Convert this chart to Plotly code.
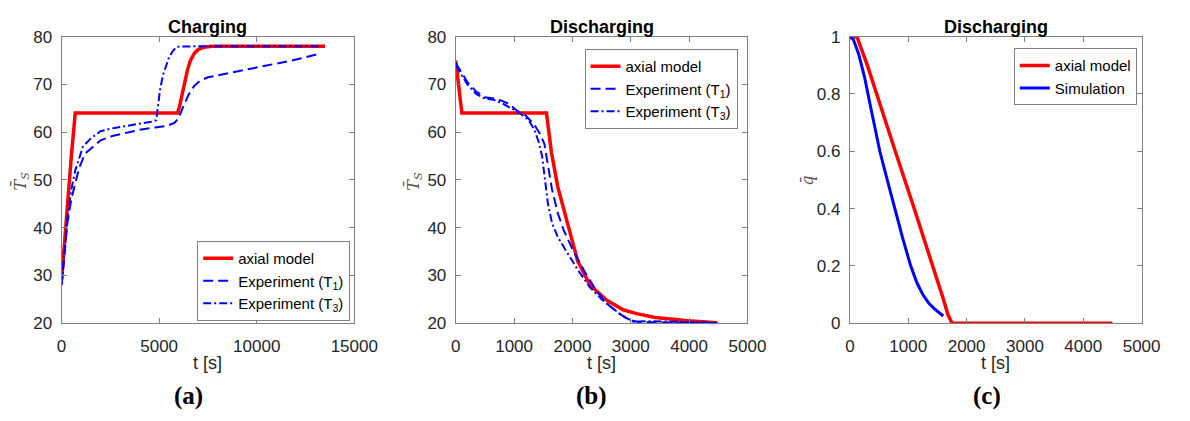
import plotly.graph_objects as go

# ---------------- data ----------------
# (a) Charging
a_model_t = [0, 150, 350, 500, 700, 5950, 6050, 6150, 6300, 6450, 6600, 6800, 7000, 7300, 7700, 8200, 13500]
a_model_T = [29, 37, 48.5, 55, 64, 64, 65.5, 67.5, 70.5, 73, 75, 76.5, 77.3, 77.8, 78, 78, 78]
a_T1_t = [0, 150, 300, 500, 700, 900, 1200, 1600, 2000, 2600, 3200, 4000, 4800, 5400, 5800, 6000, 6200,
          6500, 6800, 7100, 7500, 8700, 10000, 11900, 13300]
a_T1_T = [28, 35, 41, 46, 49.5, 52.5, 55.5, 57, 58.3, 59.2, 59.8, 60.5, 61, 61.3, 62, 63, 65,
          67.8, 69.7, 70.8, 71.5, 72.5, 73.5, 75.1, 76.5]
a_T3_t = [0, 150, 300, 500, 700, 900, 1100, 1500, 2000, 2600, 3200, 4000, 4600, 4850, 4950, 5050,
          5200, 5350, 5500, 5700, 5900, 7000, 10000, 13300]
a_T3_T = [28, 36, 42, 48, 52, 54.5, 57, 58.7, 60.2, 60.8, 61.2, 61.8, 62.2, 62.5, 66, 69,
          72, 74, 75.6, 77, 77.9, 78, 78, 78]

# (b) Discharging temperature
b_model_t = [0, 105, 1555, 1640, 1750, 1920, 2090, 2300, 2590, 2870, 3100, 3420, 3980, 4480]
b_model_T = [75, 64, 64, 55.8, 48.5, 40.5, 33, 28, 24.8, 22.8, 22, 21.2, 20.5, 20.1]
b_T1_t = [0, 100, 200, 350, 500, 700, 900, 1050, 1200, 1350, 1450, 1520, 1580, 1650, 1750, 1850,
          2000, 2200, 2400, 2600, 2800, 3000, 3150, 3500, 4000, 4500]
b_T1_T = [74.5, 72.5, 70.5, 68.5, 67.3, 67, 66, 64.5, 63.5, 61.5, 59.5, 57.5, 53, 48, 43, 39.5,
          35.5, 31, 27, 24, 22, 20.6, 20.2, 20.1, 20.1, 20]
b_T3_t = [0, 100, 200, 350, 500, 650, 800, 950, 1100, 1250, 1350, 1420, 1480, 1530, 1580, 1650,
          1750, 1900, 2100, 2300, 2500, 2700, 2900, 3050, 3300, 3700, 4200, 4500]
b_T3_T = [74, 72, 70, 68, 67, 66.8, 66, 65, 64, 62.5, 60.5, 58, 55, 50, 45, 41,
          38, 35, 31, 27.5, 25, 23, 21.2, 20.3, 20.4, 20.3, 20.2, 20.1]

# (c) Discharging q
c_model_t = [0, 120, 300, 454, 778, 1102, 1426, 1600, 1680, 1750, 4500]
c_model_q = [1, 1, 0.9, 0.8, 0.6, 0.4, 0.2, 0.085, 0.03, 0, 0]
c_sim_t = [0, 60, 150, 250, 350, 450, 513, 640, 764, 900, 1042, 1150, 1250, 1350, 1450, 1600]
c_sim_q = [1, 0.99, 0.94, 0.86, 0.76, 0.66, 0.6, 0.5, 0.4, 0.3, 0.2, 0.14, 0.1, 0.07, 0.05, 0.025]

titles = ["Charging", "Discharging", "Discharging"]
sublabels = ["(a)", "(b)", "(c)"]
xtick_a = [0, 5000, 10000, 15000]
xtick_bc = [0, 1000, 2000, 3000, 4000, 5000]
ytick_T = [20, 30, 40, 50, 60, 70, 80]
ytick_q = [0, 0.2, 0.4, 0.6, 0.8, 1]

# ---------------- figure ----------------
W, H = 1190, 421
RED, BLUE = "#ff0000", "#0000ff"
GRAY = "#808080"
TXT = "#262626"
DASH = "10px,5px"
DASHDOT = "8px,3px,2px,3px"

def px_x(x):
    return x / W

def px_y(y):
    return 1 - y / H

fig = go.Figure()

def add(x, y, name, color, width, dash, xa, ya, leg):
    fig.add_trace(go.Scatter(x=x, y=y, name=name, mode="lines",
                             line=dict(color=color, width=width, dash=dash),
                             xaxis=xa, yaxis=ya, legend=leg, showlegend=True))

add(a_model_t, a_model_T, "axial model", RED, 3.5, "solid", "x", "y", "legend")
add(a_T1_t, a_T1_T, "Experiment (T<sub>1</sub>)", BLUE, 2, DASH, "x", "y", "legend")
add(a_T3_t, a_T3_T, "Experiment (T<sub>3</sub>)", BLUE, 2, DASHDOT, "x", "y", "legend")

add(b_model_t, b_model_T, "axial model", RED, 3.5, "solid", "x2", "y2", "legend2")
add(b_T1_t, b_T1_T, "Experiment (T<sub>1</sub>)", BLUE, 2, DASH, "x2", "y2", "legend2")
add(b_T3_t, b_T3_T, "Experiment (T<sub>3</sub>)", BLUE, 2, DASHDOT, "x2", "y2", "legend2")

add(c_model_t, c_model_q, "axial model", RED, 3.5, "solid", "x3", "y3", "legend3")
add(c_sim_t, c_sim_q, "Simulation", BLUE, 3, "solid", "x3", "y3", "legend3")

panels = [(58, 358), (462, 761), (866, 1165)]
top, bot = 29, 329
ydom = [px_y(bot), px_y(top)]

axis_common = dict(showline=True, linecolor=GRAY, linewidth=1, mirror="allticks",
                   ticks="inside", ticklen=5, tickcolor=GRAY, showgrid=False, zeroline=False,
                   tickfont=dict(family="Liberation Sans, Arial", size=17, color=TXT))

layout = dict(width=W, height=H, margin=dict(l=0, r=0, t=0, b=0),
              plot_bgcolor="white", paper_bgcolor="white", showlegend=True)

xranges = [[0, 15000], [0, 5000], [0, 5000]]
xticks = [xtick_a, xtick_bc, xtick_bc]
yranges = [[20, 80], [20, 80], [0, 1]]
yticks = [ytick_T, ytick_T, ytick_q]

for i, (l, r) in enumerate(panels):
    sx = "" if i == 0 else str(i + 1)
    xa = dict(axis_common, domain=[px_x(l), px_x(r)], range=xranges[i], tickvals=xticks[i],
              ticktext=[str(v) for v in xticks[i]], anchor="y" + sx, ticklabelstandoff=7)
    ya = dict(axis_common, domain=ydom, range=yranges[i], tickvals=yticks[i],
              ticktext=[("%g" % v) for v in yticks[i]], anchor="x" + sx, ticklabelstandoff=5)
    layout["xaxis" + sx] = xa
    layout["yaxis" + sx] = ya

leg_common = dict(bgcolor="white", bordercolor=GRAY, borderwidth=1,
                  font=dict(family="Liberation Sans, Arial", size=15, color="#000000"),
                  xanchor="left", yanchor="top", itemwidth=30, tracegroupgap=0)
layout["legend"] = dict(leg_common, x=px_x(197), y=px_y(243))
layout["legend2"] = dict(leg_common, x=px_x(594), y=px_y(42))
layout["legend3"] = dict(leg_common, x=px_x(1034), y=px_y(41))

annotations = []
ylab = ["<i>T̄</i><sub><i>S</i></sub>", "<i>T̄</i><sub><i>S</i></sub>", "<i>q̄</i>"]
ylab_x = [16, 419, 823]
sub_x = [188, 601, 1007]
for i, (l, r) in enumerate(panels):
    cx = (l + r) / 2
    annotations.append(dict(text="<b>" + titles[i] + "</b>", x=px_x(cx), y=px_y(19), xref="paper",
                            yref="paper", showarrow=False, xanchor="center", yanchor="middle",
                            font=dict(family="Liberation Sans, Arial", size=18, color="#000000")))
    annotations.append(dict(text="t [s]", x=px_x(cx), y=px_y(371), xref="paper", yref="paper",
                            showarrow=False, xanchor="center", yanchor="middle",
                            font=dict(family="Liberation Sans, Arial", size=18, color=TXT)))
    annotations.append(dict(text=ylab[i], x=px_x(ylab_x[i]), y=px_y(180), xref="paper", yref="paper",
                            showarrow=False, xanchor="center", yanchor="middle", textangle=-90,
                            font=dict(family="DejaVu Serif, serif", size=16, color="#555555")))
    annotations.append(dict(text="<b>" + sublabels[i] + "</b>", x=px_x(sub_x[i]), y=px_y(405),
                            xref="paper", yref="paper", showarrow=False, xanchor="center",
                            yanchor="middle",
                            font=dict(family="Liberation Serif, serif", size=25, color="#000000")))
layout["annotations"] = annotations

fig.update_layout(**layout)
fig.write_html("out.html")
